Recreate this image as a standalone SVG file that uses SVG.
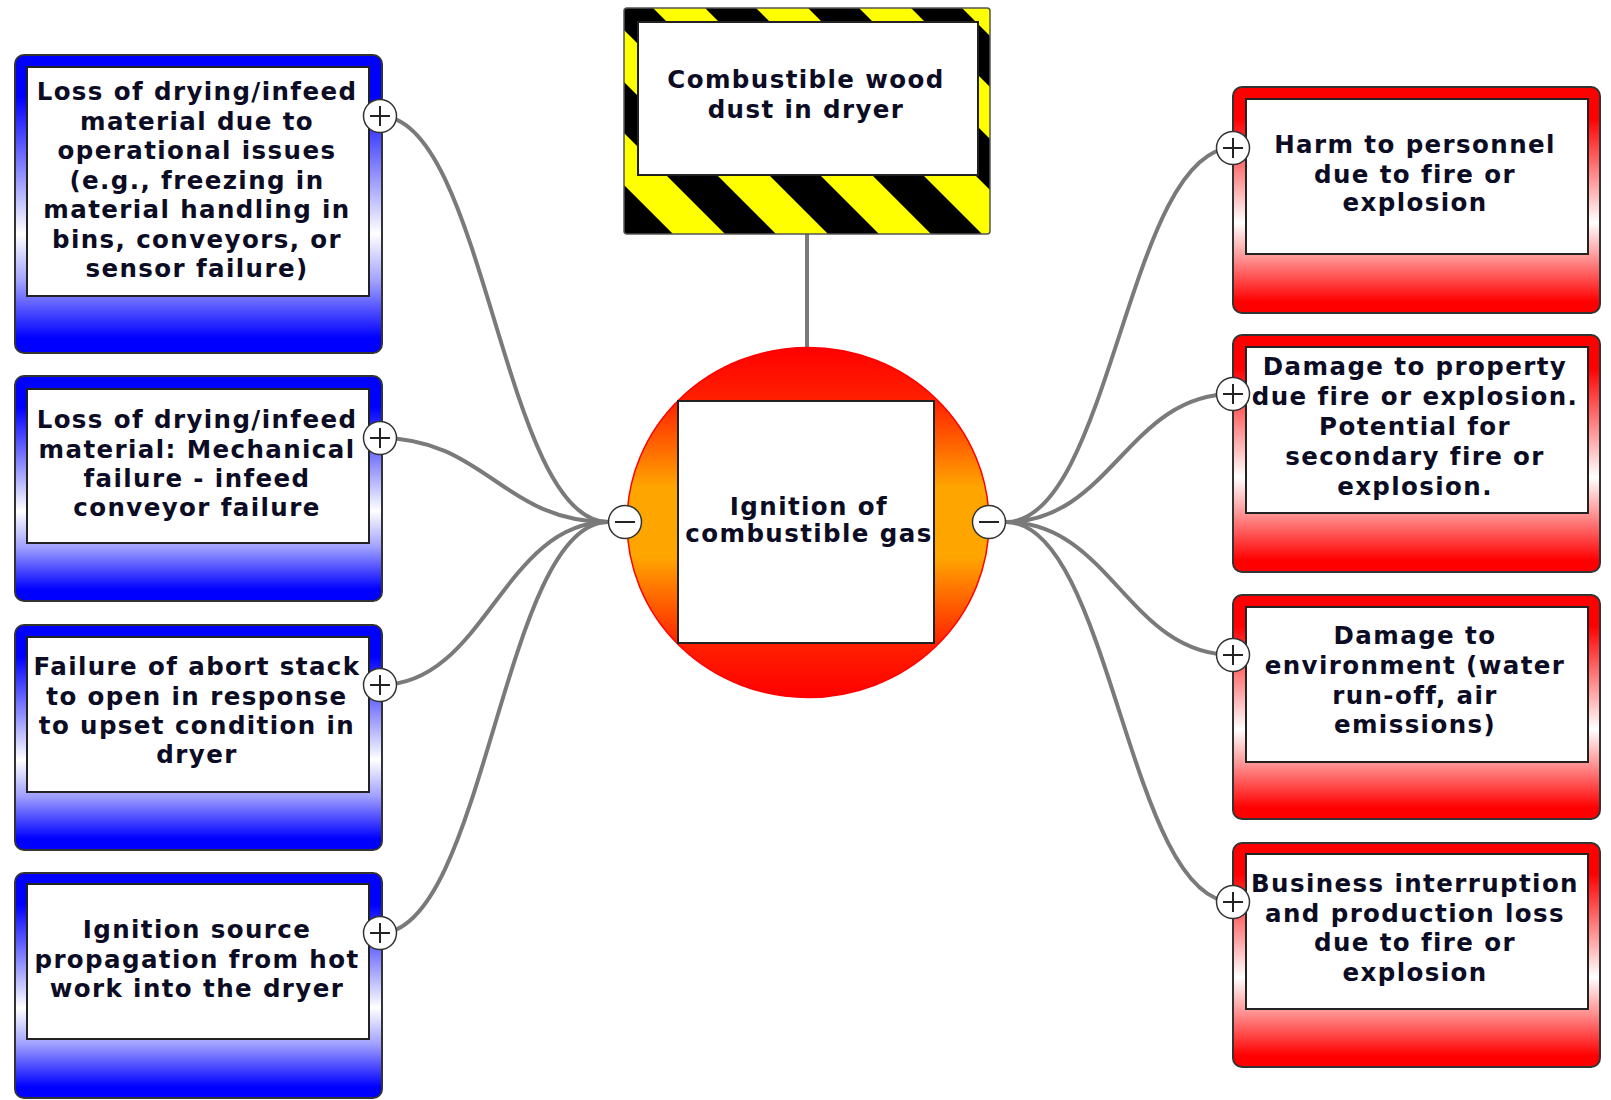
<svg xmlns="http://www.w3.org/2000/svg" width="1611" height="1100" viewBox="0 0 1611 1100">
<style>
.t{font-family:"DejaVu Sans",Verdana,sans-serif;font-weight:bold;font-size:24.5px;letter-spacing:1.4px;fill:#0c0c24;text-anchor:middle}
.outer{stroke:#333;stroke-width:2}
.inner{fill:#fff;stroke:#222;stroke-width:2}
.conn{fill:none;stroke:#7a7a7a;stroke-width:4}
.knob{fill:#fff;stroke:#333;stroke-width:1.5}
.sign{stroke:#222;stroke-width:2;fill:none}
</style>
<defs>
<linearGradient id="gBlue" x1="0" y1="0" x2="0" y2="1">
<stop offset="0" stop-color="#0000ff"/>
<stop offset="0.14" stop-color="#0000ff"/>
<stop offset="0.6" stop-color="#ffffff"/>
<stop offset="0.76" stop-color="#a0a0ff"/>
<stop offset="0.95" stop-color="#0000ff"/>
<stop offset="1" stop-color="#0000ff"/>
</linearGradient>
<linearGradient id="gRed" x1="0" y1="0" x2="0" y2="1">
<stop offset="0" stop-color="#ff0000"/>
<stop offset="0.14" stop-color="#ff0000"/>
<stop offset="0.6" stop-color="#ffffff"/>
<stop offset="0.76" stop-color="#ff9090"/>
<stop offset="0.95" stop-color="#ff0000"/>
<stop offset="1" stop-color="#ff0000"/>
</linearGradient>
<linearGradient id="gCircle" x1="0" y1="0" x2="0" y2="1">
<stop offset="0" stop-color="#ff0000"/>
<stop offset="0.15" stop-color="#ff2000"/>
<stop offset="0.4" stop-color="#ffa500"/>
<stop offset="0.6" stop-color="#ffa500"/>
<stop offset="0.85" stop-color="#ff2000"/>
<stop offset="1" stop-color="#ff0000"/>
</linearGradient>
<pattern id="hazard" patternUnits="userSpaceOnUse" x="542" y="0" width="103" height="103">
<rect width="103" height="103" fill="#000"/>
<polygon points="0,0 52,0 103,51 103,103" fill="#ffff00"/>
<polygon points="0,51 52,103 0,103" fill="#ffff00"/>
</pattern>
<clipPath id="cL1"><rect x="28" y="68" width="340" height="227"/></clipPath>
<clipPath id="cL2"><rect x="28" y="390" width="340" height="152"/></clipPath>
<clipPath id="cL3"><rect x="28" y="638" width="340" height="153"/></clipPath>
<clipPath id="cL4"><rect x="28" y="885" width="340" height="153"/></clipPath>
<clipPath id="cR1"><rect x="1247" y="100" width="340" height="153"/></clipPath>
<clipPath id="cR2"><rect x="1247" y="348" width="340" height="164"/></clipPath>
<clipPath id="cR3"><rect x="1247" y="608" width="340" height="153"/></clipPath>
<clipPath id="cR4"><rect x="1247" y="855" width="340" height="153"/></clipPath>
</defs>
<rect width="1611" height="1100" fill="#fff"/>

<g id="connectors">
<path class="conn" d="M807,234 L807,350"/>
<path class="conn" d="M380,116 C485,116 503,522 608,522"/>
<path class="conn" d="M380,438 C485,438 503,522 608,522"/>
<path class="conn" d="M380,685 C485,685 503,522 608,522"/>
<path class="conn" d="M380,933 C485,933 503,522 608,522"/>
<path class="conn" d="M1006,522 C1111,522 1128,148 1233,148"/>
<path class="conn" d="M1006,522 C1111,522 1128,394 1233,394"/>
<path class="conn" d="M1006,522 C1111,522 1128,655 1233,655"/>
<path class="conn" d="M1006,522 C1111,522 1128,902 1233,902"/>
</g>

<g id="hazard-node">
<rect x="624" y="8" width="366" height="226" rx="3" fill="url(#hazard)" stroke="#555" stroke-width="1.5"/>
<rect class="inner" x="638" y="22" width="340" height="153"/>
<text class="t"><tspan x="806" y="88">Combustible wood</tspan><tspan x="806" y="118">dust in dryer</tspan></text>
</g>

<g id="top-event">
<ellipse cx="808" cy="522.5" rx="181" ry="175" fill="url(#gCircle)" stroke="#ff0000" stroke-width="1.5"/>
<rect class="inner" x="678" y="401" width="256" height="242"/>
<text class="t"><tspan x="809" y="515">Ignition of</tspan><tspan x="809" y="542">combustible gas</tspan></text>
<circle class="knob" cx="625" cy="522" r="16.5"/>
<path class="sign" d="M615,522 H635"/>
<circle class="knob" cx="989" cy="522" r="16.5"/>
<path class="sign" d="M979,522 H999"/>
</g>

<g id="threat-1">
<rect class="outer" x="15" y="55" width="367" height="298" rx="9" fill="url(#gBlue)"/>
<rect class="inner" x="27" y="67" width="342" height="229"/>
<text class="t" clip-path="url(#cL1)"><tspan x="197" y="100">Loss of drying/infeed</tspan><tspan x="197" y="129.5">material due to</tspan><tspan x="197" y="159">operational issues</tspan><tspan x="197" y="188.5">(e.g., freezing in</tspan><tspan x="197" y="218">material handling in</tspan><tspan x="197" y="247.5">bins, conveyors, or</tspan><tspan x="197" y="277">sensor failure)</tspan></text>
<circle class="knob" cx="380" cy="116" r="16.5"/>
<path class="sign" d="M370,116 H390 M380,106 V126"/>
</g>

<g id="threat-2">
<rect class="outer" x="15" y="376" width="367" height="225" rx="9" fill="url(#gBlue)"/>
<rect class="inner" x="27" y="389" width="342" height="154"/>
<text class="t" clip-path="url(#cL2)"><tspan x="197" y="428">Loss of drying/infeed</tspan><tspan x="197" y="457.5">material: Mechanical</tspan><tspan x="197" y="487">failure - infeed</tspan><tspan x="197" y="516">conveyor failure</tspan></text>
<circle class="knob" cx="380" cy="438" r="16.5"/>
<path class="sign" d="M370,438 H390 M380,428 V448"/>
</g>

<g id="threat-3">
<rect class="outer" x="15" y="625" width="367" height="225" rx="9" fill="url(#gBlue)"/>
<rect class="inner" x="27" y="637" width="342" height="155"/>
<text class="t" clip-path="url(#cL3)"><tspan x="197" y="675">Failure of abort stack</tspan><tspan x="197" y="704.5">to open in response</tspan><tspan x="197" y="733.5">to upset condition in</tspan><tspan x="197" y="763">dryer</tspan></text>
<circle class="knob" cx="380" cy="685" r="16.5"/>
<path class="sign" d="M370,685 H390 M380,675 V695"/>
</g>

<g id="threat-4">
<rect class="outer" x="15" y="873" width="367" height="225" rx="9" fill="url(#gBlue)"/>
<rect class="inner" x="27" y="884" width="342" height="155"/>
<text class="t" clip-path="url(#cL4)"><tspan x="197" y="938">Ignition source</tspan><tspan x="197" y="967.5">propagation from hot</tspan><tspan x="197" y="997">work into the dryer</tspan></text>
<circle class="knob" cx="380" cy="933" r="16.5"/>
<path class="sign" d="M370,933 H390 M380,923 V943"/>
</g>

<g id="consequence-1">
<rect class="outer" x="1233" y="87" width="367" height="226" rx="9" fill="url(#gRed)"/>
<rect class="inner" x="1246" y="99" width="342" height="155"/>
<text class="t" clip-path="url(#cR1)"><tspan x="1415" y="153">Harm to personnel</tspan><tspan x="1415" y="182.5">due to fire or</tspan><tspan x="1415" y="211">explosion</tspan></text>
<circle class="knob" cx="1233" cy="148" r="16.5"/>
<path class="sign" d="M1223,148 H1243 M1233,138 V158"/>
</g>

<g id="consequence-2">
<rect class="outer" x="1233" y="335" width="367" height="237" rx="9" fill="url(#gRed)"/>
<rect class="inner" x="1246" y="347" width="342" height="166"/>
<text class="t" clip-path="url(#cR2)"><tspan x="1415" y="375">Damage to property</tspan><tspan x="1415" y="404.5">due fire or explosion.</tspan><tspan x="1415" y="434.5">Potential for</tspan><tspan x="1415" y="464.5">secondary fire or</tspan><tspan x="1415" y="494.5">explosion.</tspan></text>
<circle class="knob" cx="1233" cy="394" r="16.5"/>
<path class="sign" d="M1223,394 H1243 M1233,384 V404"/>
</g>

<g id="consequence-3">
<rect class="outer" x="1233" y="595" width="367" height="224" rx="9" fill="url(#gRed)"/>
<rect class="inner" x="1246" y="607" width="342" height="155"/>
<text class="t" clip-path="url(#cR3)"><tspan x="1415" y="644">Damage to</tspan><tspan x="1415" y="674">environment (water</tspan><tspan x="1415" y="703.5">run-off, air</tspan><tspan x="1415" y="733">emissions)</tspan></text>
<circle class="knob" cx="1233" cy="655" r="16.5"/>
<path class="sign" d="M1223,655 H1243 M1233,645 V665"/>
</g>

<g id="consequence-4">
<rect class="outer" x="1233" y="843" width="367" height="224" rx="9" fill="url(#gRed)"/>
<rect class="inner" x="1246" y="854" width="342" height="155"/>
<text class="t" clip-path="url(#cR4)"><tspan x="1415" y="892">Business interruption</tspan><tspan x="1415" y="921.5">and production loss</tspan><tspan x="1415" y="951">due to fire or</tspan><tspan x="1415" y="980.5">explosion</tspan></text>
<circle class="knob" cx="1233" cy="902" r="16.5"/>
<path class="sign" d="M1223,902 H1243 M1233,892 V912"/>
</g>
</svg>
